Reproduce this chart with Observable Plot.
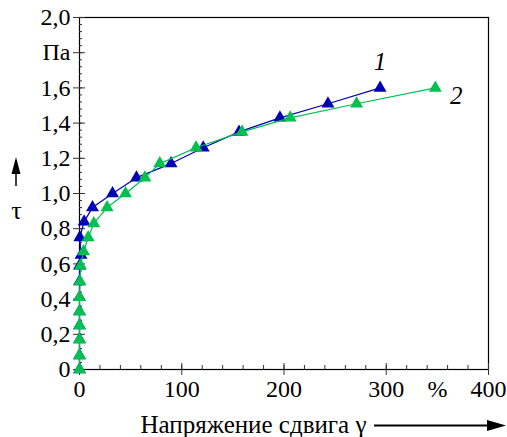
<!DOCTYPE html>
<html>
<head>
<meta charset="utf-8">
<script src="https://cdn.jsdelivr.net/npm/d3@7"></script>
<script src="https://cdn.jsdelivr.net/npm/@observablehq/plot@0.6"></script>
<style>
  html, body { margin: 0; padding: 0; background: #fff; }
</style>
</head>
<body>
<div id="chart"></div>
<script>
// Series 1 (blue)
const tau1 = [0, 0.08, 0.17, 0.25, 0.33, 0.41, 0.50, 0.59, 0.65, 0.75, 0.84, 0.92, 1.00, 1.09, 1.17, 1.26, 1.35, 1.43, 1.51, 1.60];
const gamma1 = [0, 0, 0, 0, 0, 0, 0, 0, 1.5, 0.3, 4.5, 12.7, 32.3, 55.7, 89.5, 121, 156, 196, 243, 294];
// Series 2 (green)
const tau2 = [0, 0.08, 0.17, 0.25, 0.33, 0.41, 0.50, 0.59, 0.67, 0.75, 0.83, 0.92, 1.00, 1.09, 1.17, 1.26, 1.35, 1.43, 1.51, 1.60];
const gamma2 = [0, 0, 0, 0, 0, 0, 0.5, 1, 4, 8.5, 14, 27, 45, 64, 78.5, 114, 159, 206, 271, 348];

const xTicks = [0, 100, 200, 300, 350, 400];
const xTickLabels = ["0", "100", "200", "300", "%", "400"];
const xMajor = [0, 100, 200, 300, 400];
const yTicks = [0, 0.2, 0.4, 0.6, 0.8, 1.0, 1.2, 1.4, 1.6, 1.8, 2.0];
const yTickLabels = ["0", "0,2", "0,4", "0,6", "0,8", "1,0", "1,2", "1,4", "1,6", "Па", "2,0"];
const xMinor = d3.range(0, 401, 20);
const yMinor = d3.range(0, 2.001, 0.04);
const xTitle = "Напряжение сдвига γ";
const yTitle = "τ";
const seriesLabels = ["1", "2"];

const blueColor = "#0000b4";
const greenColor = "#00c050";

const s1 = tau1.map((t, i) => ({x: gamma1[i], y: t}));
const s2 = tau2.map((t, i) => ({x: gamma2[i], y: t}));

const fontFam = "'Liberation Serif', 'Times New Roman', serif";

const plot = Plot.plot({
  width: 507,
  height: 437,
  marginLeft: 79,
  marginRight: 19,
  marginTop: 17,
  marginBottom: 68,
  style: {fontFamily: fontFam, fontSize: "23px", background: "#fff", overflow: "visible"},
  x: {domain: [0, 400]},
  y: {domain: [0, 2]},
  marks: [
    Plot.frame({stroke: "#000", strokeWidth: 1.2}),
    Plot.axisX({ticks: xTicks, tickFormat: (d) => xTickLabels[xTicks.indexOf(d)], tickSize: 0, tickPadding: 10, label: null, fontSize: 24}),
    Plot.axisX({ticks: xMajor, tickSize: 6, text: null, label: null, stroke: "#333"}),
    Plot.axisX({ticks: xMajor, tickSize: -6, text: null, label: null, stroke: "#333"}),
    Plot.axisX({ticks: xMinor, tickSize: -4, text: null, label: null, stroke: "#333"}),
    Plot.axisY({ticks: yTicks, tickFormat: (d) => yTickLabels[yTicks.findIndex(v => Math.abs(v - d) < 1e-9)], tickSize: 6, tickPadding: 3, label: null, fontSize: 24, stroke: "#333"}),
    Plot.axisY({ticks: yTicks, tickSize: -6, text: null, label: null, stroke: "#333"}),
    Plot.axisY({ticks: yMinor, tickSize: -3, text: null, label: null, stroke: "#333"}),
    // series
    Plot.line(s1, {x: "x", y: "y", stroke: blueColor, strokeWidth: 1.2}),
    Plot.dot(s1, {x: "x", y: "y", symbol: "triangle", fill: blueColor, r: 4.8}),
    Plot.line(s2, {x: "x", y: "y", stroke: greenColor, strokeWidth: 1.2}),
    Plot.dot(s2, {x: "x", y: "y", symbol: "triangle", fill: greenColor, r: 4.8}),
    // series labels
    Plot.text([s1[s1.length - 1]], {x: "x", y: "y", text: () => seriesLabels[0], dy: -26, fontStyle: "italic", fontSize: 25}),
    Plot.text([s2[s2.length - 1]], {x: "x", y: "y", text: () => seriesLabels[1], dx: 21, dy: 8, fontStyle: "italic", fontSize: 25}),
    // axis titles
    Plot.text([xTitle], {frameAnchor: "bottom-left", text: d => d, textAnchor: "start", lineAnchor: "middle", dx: 61, dy: 55, fontSize: 25}),
    Plot.text([yTitle], {frameAnchor: "left", text: d => d, textAnchor: "middle", lineAnchor: "middle", dx: -63, dy: 17, fontSize: 26})
  ]
});

document.getElementById("chart").appendChild(plot);

// decorative arrows next to axis titles
const svg = d3.select(plot);
const g = svg.append("g").attr("fill", "#000").attr("stroke", "#000");
g.append("line").attr("x1", 374).attr("y1", 425.5).attr("x2", 492).attr("y2", 425.5).attr("stroke-width", 2);
g.append("path").attr("d", "M506,425.5 L487,420 L487,431 Z").attr("stroke", "none");
g.append("line").attr("x1", 16).attr("y1", 186).attr("x2", 16).attr("y2", 170).attr("stroke-width", 1.5);
g.append("path").attr("d", "M16,157 L11.5,174 L20.5,174 Z").attr("stroke", "none");
</script>
</body>
</html>
